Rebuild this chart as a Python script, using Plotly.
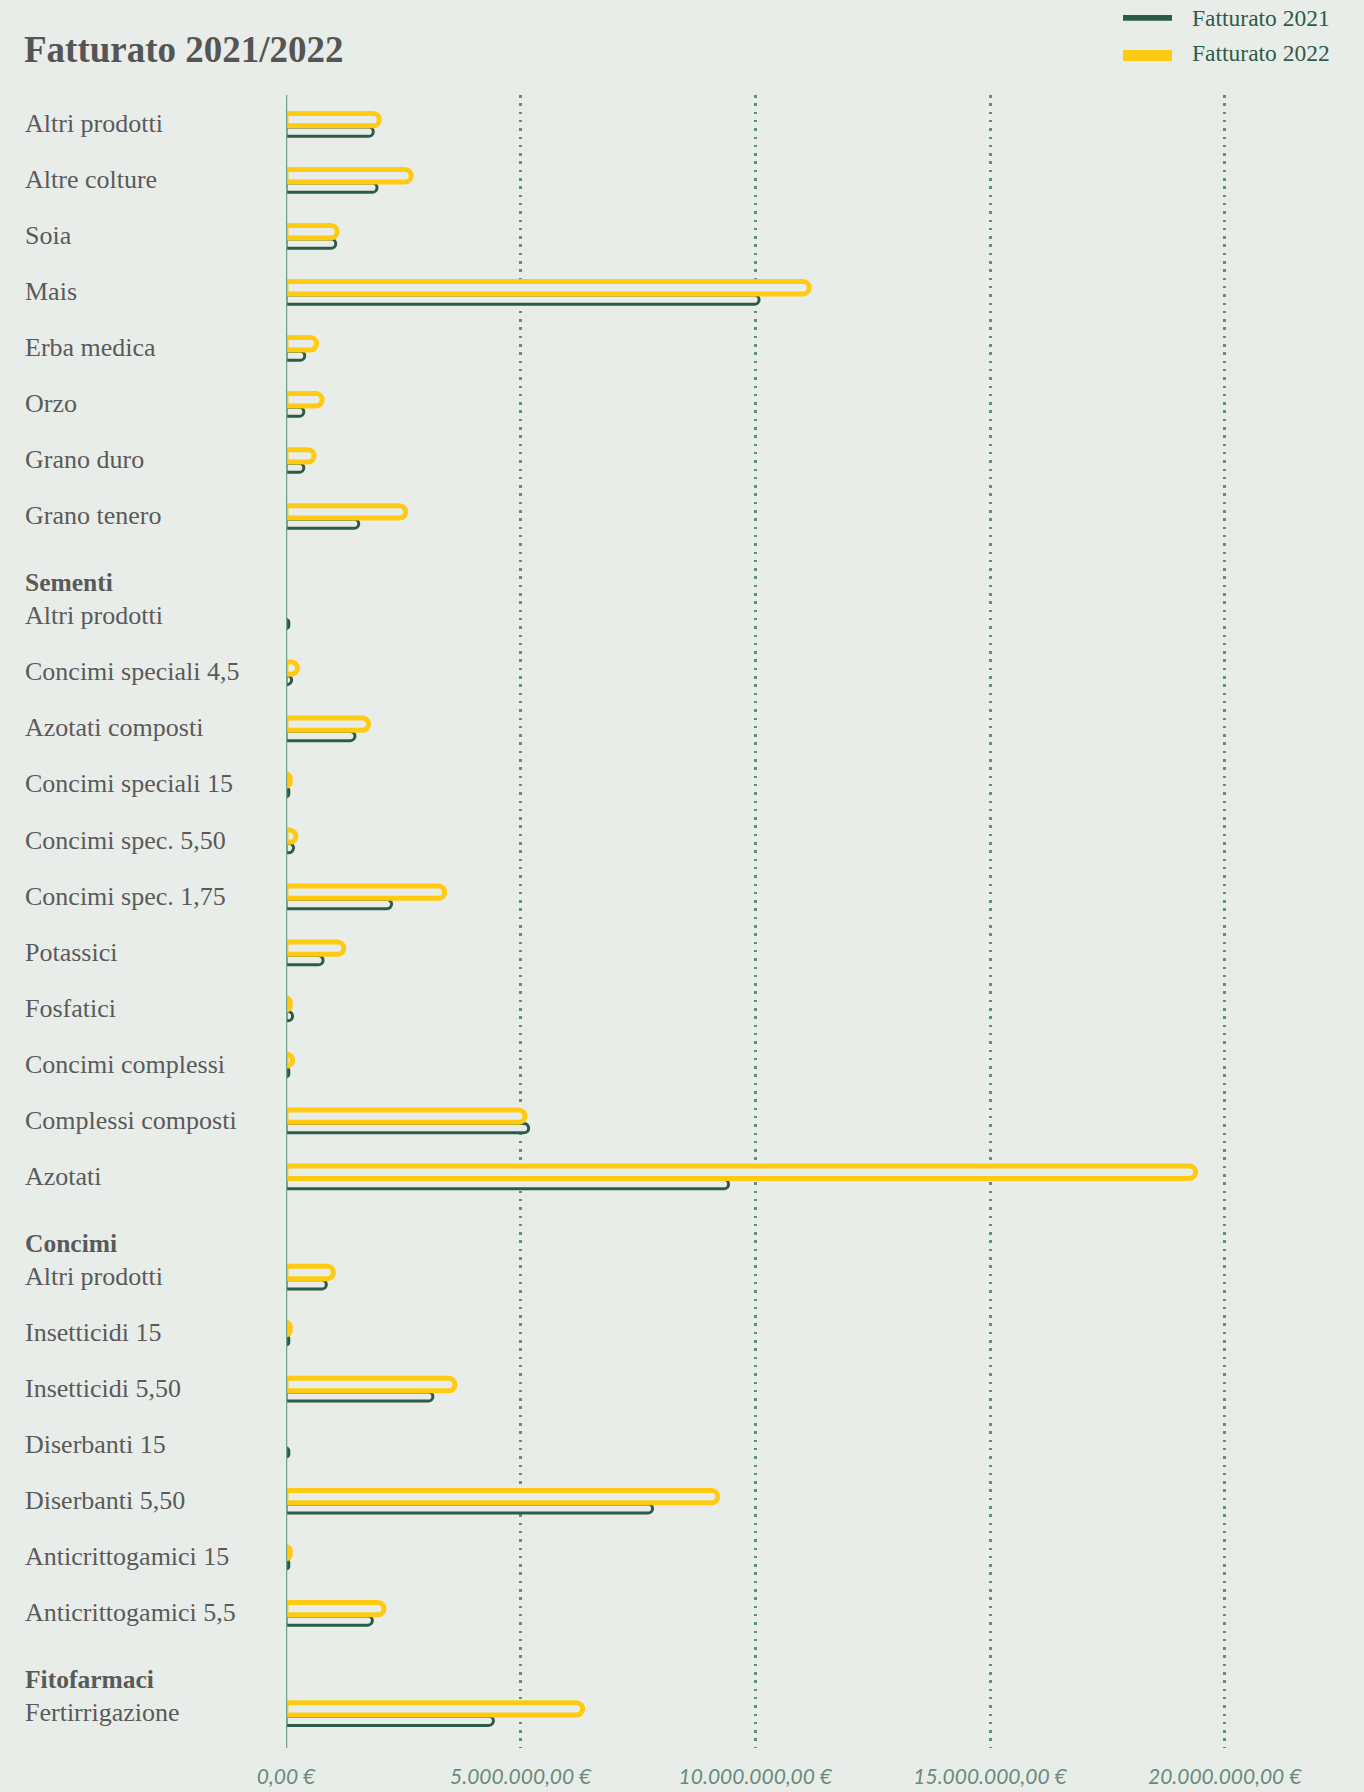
import plotly.graph_objects as go

# ---------------- data (top to bottom as displayed) ----------------
categories = [
    "Altri prodotti", "Altre colture", "Soia", "Mais", "Erba medica", "Orzo",
    "Grano duro", "Grano tenero",
    "Altri prodotti", "Concimi speciali 4,5", "Azotati composti",
    "Concimi speciali 15", "Concimi spec. 5,50", "Concimi spec. 1,75",
    "Potassici", "Fosfatici", "Concimi complessi", "Complessi composti", "Azotati",
    "Altri prodotti", "Insetticidi 15", "Insetticidi 5,50", "Diserbanti 15",
    "Diserbanti 5,50", "Anticrittogamici 15", "Anticrittogamici 5,5",
    "Fertirrigazione",
]
section_headers = ["Sementi", "Concimi", "Fitofarmaci"]
section_starts = [8, 19, 26]  # header printed just above these rows

fatturato_2021 = [
    1_860_000, 1_940_000, 1_060_000, 10_080_000, 400_000, 380_000, 380_000, 1_550_000,
    60_000, 120_000, 1_470_000, 60_000, 160_000, 2_250_000, 790_000, 140_000, 60_000,
    5_170_000, 9_430_000,
    860_000, 60_000, 3_130_000, 60_000, 7_810_000, 60_000, 1_840_000,
    4_420_000,
]
fatturato_2022 = [
    1_990_000, 2_670_000, 1_090_000, 11_150_000, 650_000, 770_000, 600_000, 2_550_000,
    None, 245_000, 1_760_000, 90_000, 210_000, 3_380_000, 1_230_000, 90_000, 140_000,
    5_090_000, 19_380_000,
    1_010_000, 90_000, 3_600_000, None, 9_200_000, 90_000, 2_090_000,
    6_320_000,
]
series_names = ["Fatturato 2021", "Fatturato 2022"]
tick_values = [0, 5_000_000, 10_000_000, 15_000_000, 20_000_000]
tick_labels = ["0,00 €", "5.000.000,00 €", "10.000.000,00 €", "15.000.000,00 €", "20.000.000,00 €"]

# ---------------- style ----------------
BG = "#e9ede9"
GREEN = "#2d5b4a"
YELLOW = "#fecb12"
AXIS_GREEN = "#76a487"
GRID_GREEN = "#5f9176"
LABEL_GRAY = "#5a5a5a"
TICK_COLOR = "#6b8a7c"
SERIF = "Liberation Serif"

W, H = 1364, 1792
L, R, T, B = 286, 22, 95, 44
PW, PH = W - L - R, H - T - B


def px_x(px):
    return (px - L) / PW


def px_y(py):
    return 1 - (py - T) / PH


# row positions: uniform rows, with an extra gap where a section header sits
SECTION_GAP = 0.79
row_pos = []
for i in range(len(categories)):
    n = sum(1 for s in section_starts if s <= i)
    row_pos.append(i + SECTION_GAP * n)

fig = go.Figure()

fig.add_trace(go.Bar(
    y=row_pos, x=fatturato_2021, orientation="h",
    width=0.164, offset=0.0625,
    marker=dict(color=BG, line=dict(color=GREEN, width=3), cornerradius="50%"),
    name=series_names[0], showlegend=False, hoverinfo="skip",
))
fig.add_trace(go.Bar(
    y=row_pos, x=fatturato_2022, orientation="h",
    width=0.22, offset=-0.179,
    marker=dict(color=BG, line=dict(color=YELLOW, width=5), cornerradius="50%"),
    name=series_names[1], showlegend=False, hoverinfo="skip",
))

annotations = []
for name, p in zip(categories, row_pos):
    annotations.append(dict(
        text=name, xref="paper", yref="y", x=px_x(23), y=p,
        xanchor="left", yanchor="middle", showarrow=False,
        font=dict(family=SERIF, size=26, color=LABEL_GRAY),
    ))
for hdr, s in zip(section_headers, section_starts):
    annotations.append(dict(
        text=f"<b>{hdr}</b>", xref="paper", yref="y", x=px_x(23), y=row_pos[s] - 0.59,
        xanchor="left", yanchor="middle", showarrow=False,
        font=dict(family=SERIF, size=25.5, color=LABEL_GRAY),
    ))

# legend (manual, top right)
legend_rows = [(series_names[0], GREEN, 15.0, 20.7, 17.5), (series_names[1], YELLOW, 50.0, 61.0, 52.7)]
shapes = []
for name, col, y0, y1, yc in legend_rows:
    shapes.append(dict(
        type="rect", xref="paper", yref="paper",
        x0=px_x(1123), x1=px_x(1172), y0=px_y(y1), y1=px_y(y0),
        fillcolor=col, line=dict(width=0), layer="above",
    ))
    annotations.append(dict(
        text=name, xref="paper", yref="paper", x=px_x(1190), y=px_y(yc),
        xanchor="left", yanchor="middle", showarrow=False,
        font=dict(family=SERIF, size=23.5, color=GREEN),
    ))

# vertical axis line at zero, above the bars
shapes.append(dict(
    type="line", xref="x", yref="paper", x0=0, x1=0, y0=0, y1=1,
    line=dict(color=AXIS_GREEN, width=2.5), layer="above",
))

fig.update_layout(
    width=W, height=H,
    margin=dict(l=L, r=R, t=T, b=B, pad=0, autoexpand=False),
    paper_bgcolor=BG, plot_bgcolor=BG,
    barmode="overlay",
    title=dict(
        text="<b>Fatturato 2021/2022</b>",
        x=24 / W, xanchor="left", xref="container",
        y=1 - 49 / H, yanchor="middle", yref="container",
        font=dict(family=SERIF, size=37, color="#555555"),
    ),
    xaxis=dict(
        range=[0, 22_500_000],
        tickvals=tick_values, ticktext=tick_labels,
        showgrid=True, gridcolor=GRID_GREEN, gridwidth=2.5, griddash="2.5px,5.8px",
        zeroline=False, showline=False, ticks="",
        tickfont=dict(family="Lato", size=21, color=TICK_COLOR, style="italic"),
        ticklabelstandoff=14,
        automargin=False,
        fixedrange=True,
    ),
    yaxis=dict(
        range=[row_pos[-1] + 0.63, -0.51],
        showticklabels=False, showgrid=False, zeroline=False, showline=False,
        ticks="", automargin=False, fixedrange=True,
    ),
    annotations=annotations,
    shapes=shapes,
    showlegend=False,
)

fig.write_html(
    "out.html",
    config={"displayModeBar": False},
    post_script="document.body.style.margin='0';document.body.style.overflow='hidden';",
)
